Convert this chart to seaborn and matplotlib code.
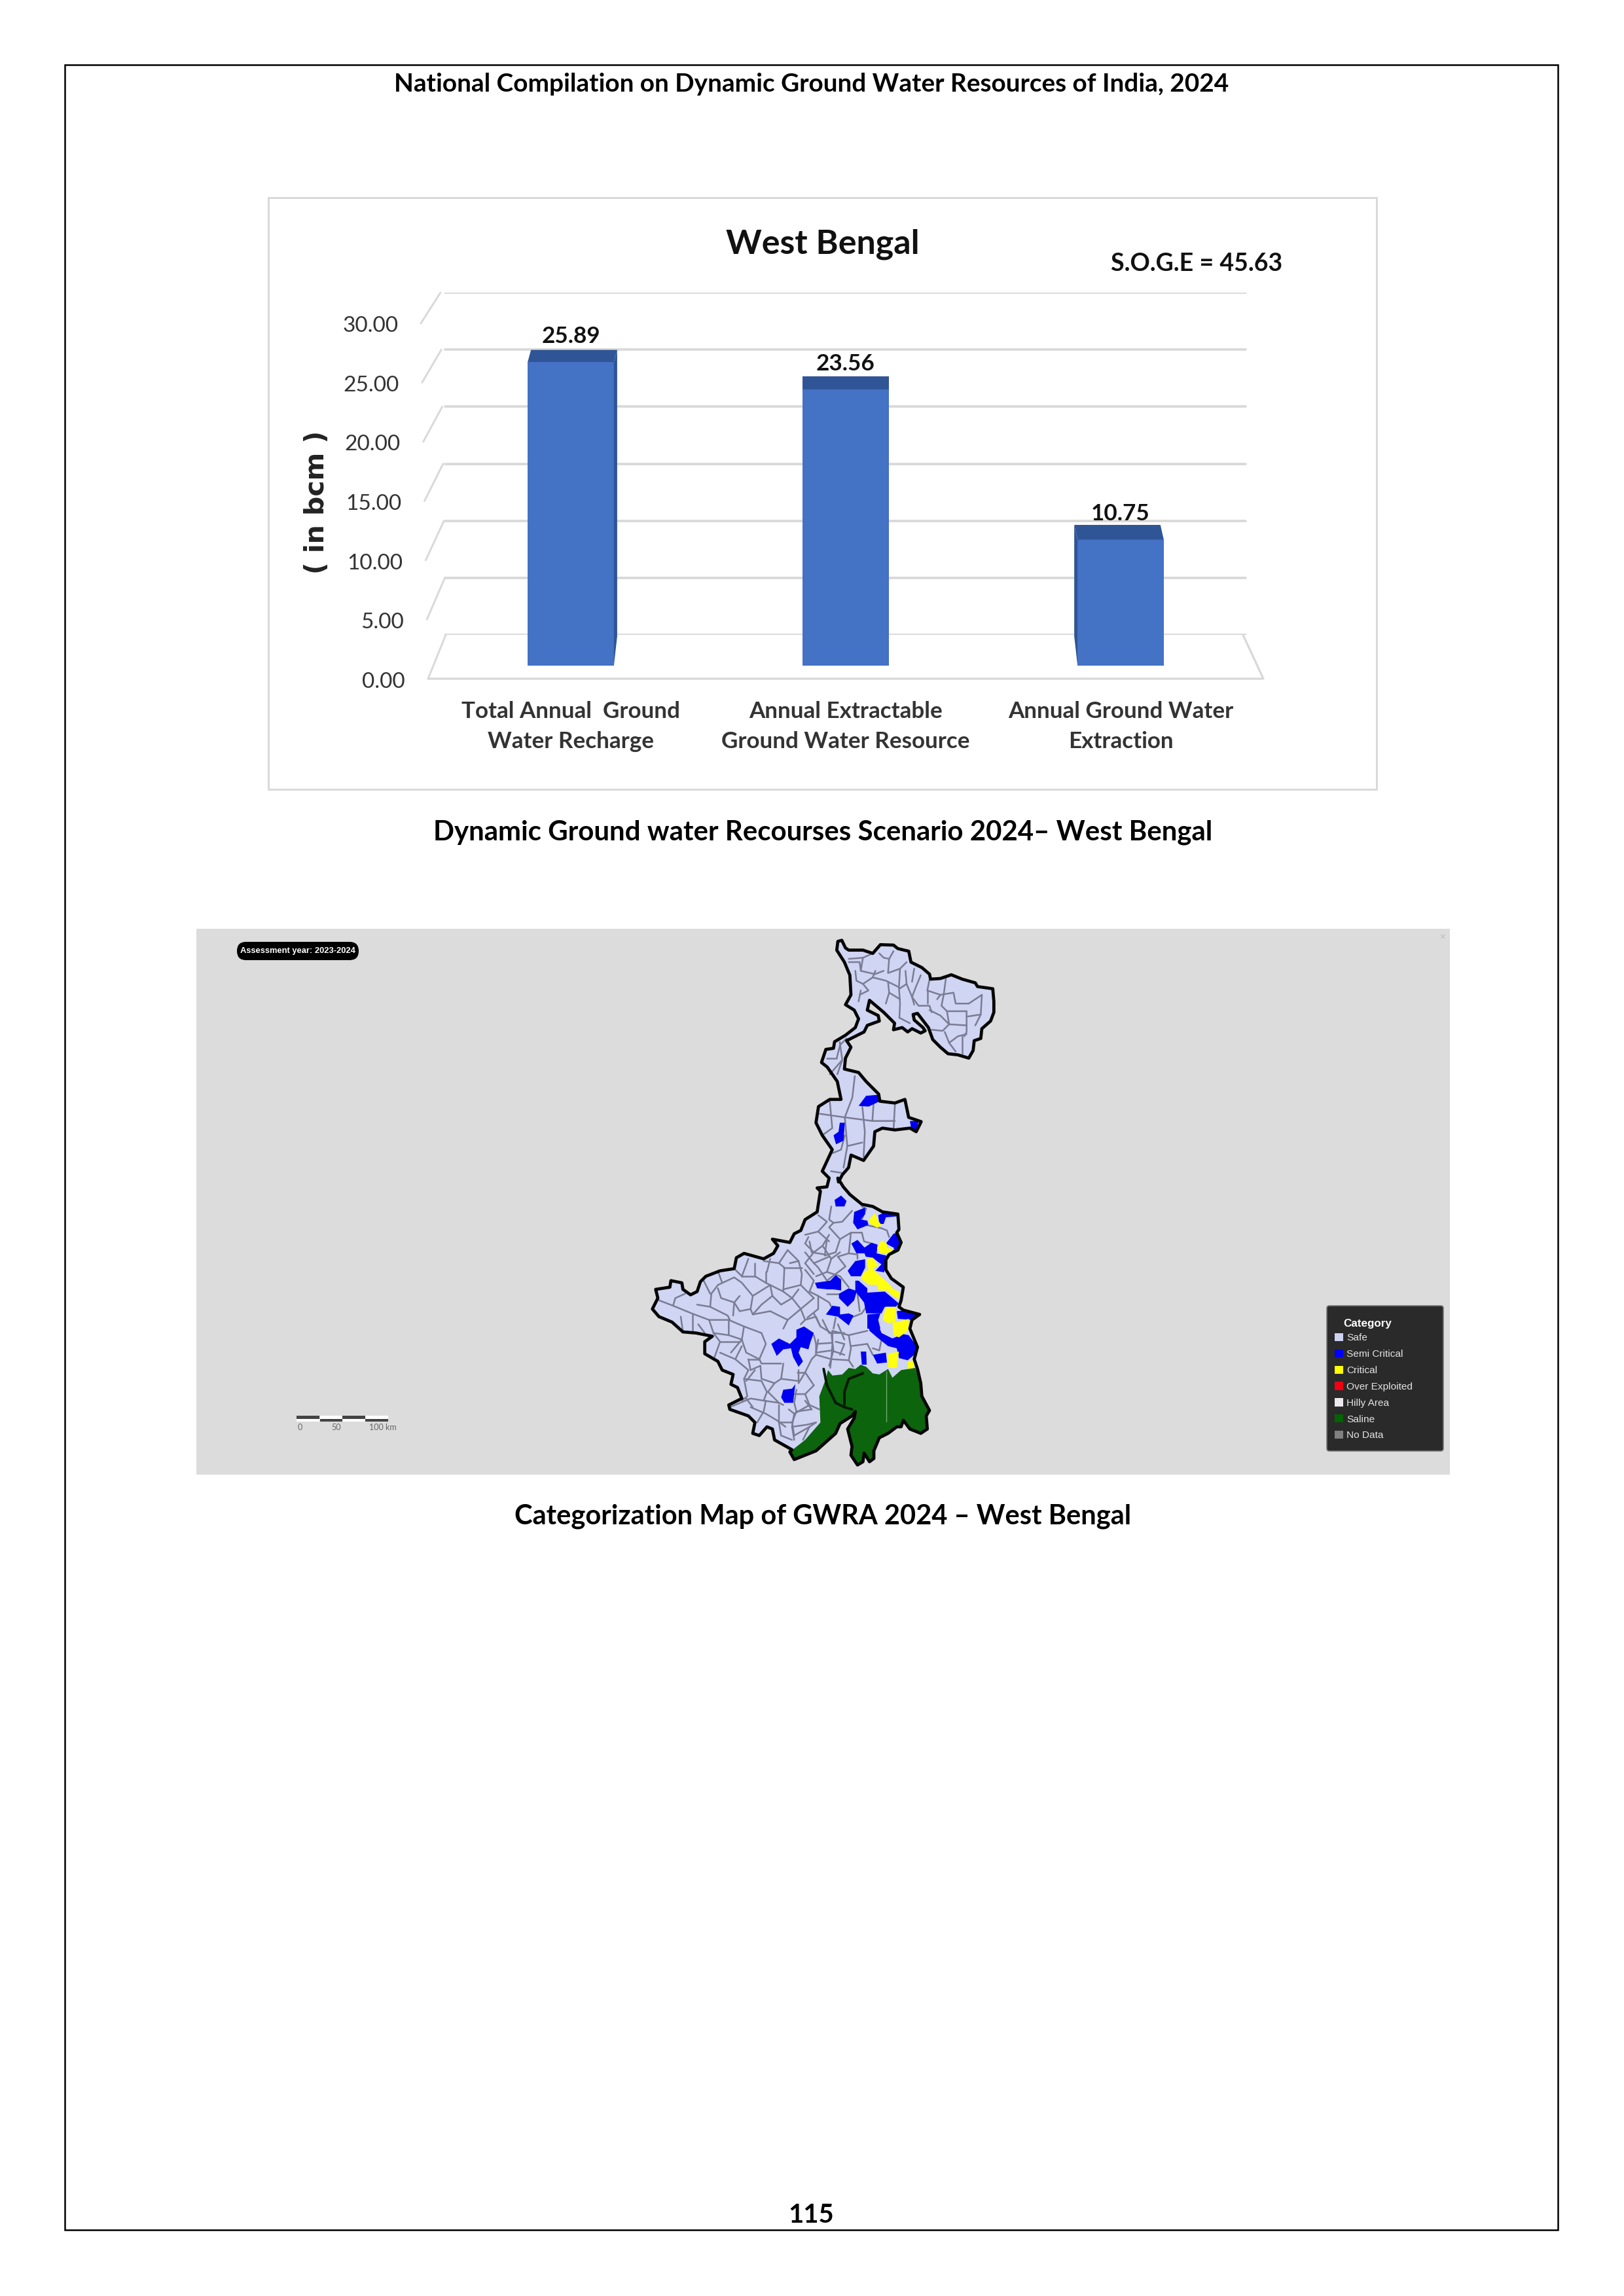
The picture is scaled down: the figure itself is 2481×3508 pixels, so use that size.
import matplotlib
matplotlib.use("Agg")
import matplotlib.pyplot as plt
import seaborn as sns
from matplotlib.patches import Polygon, Rectangle, FancyBboxPatch, Patch

# chart values
categories = ["Total Annual  Ground\nWater Recharge", "Annual Extractable\nGround Water Resource", "Annual Ground Water\nExtraction"]
values = [25.89, 23.56, 10.75]
y_ticks = [0, 5, 10, 15, 20, 25, 30]

# legend of the map
legend_names = ["Safe", "Semi Critical", "Critical", "Over Exploited", "Hilly Area", "Saline", "No Data"]
legend_colors = ["#CDD3F0", "#0000FF", "#FFFF00", "#F00010", "#ECE8EC", "#006400", "#808080"]

# map shapes, each list in the units of one crop of the map
# whole map crop
outline_mid = [(945,435),(975,460),(1025,495),(1030,515),(1090,520),(1130,510),(1145,560),(1195,572),(1175,600),(1150,590),(1090,595),(1040,590),(1010,600),(1005,640),(965,680),(915,665),(905,700),(880,720),(865,740)]
outline_mid_left = [(800,710),(840,650),(800,610),(775,575),(785,530),(830,510),(875,510),(860,460),(820,420)]
semi_critical_mid = [
    [(945,528),(975,500),(1025,497),(1030,515),(985,530)],
    [(845,610),(865,600),(870,575),(890,575),(885,625),(855,635)],
    [(1150,570),(1185,570),(1175,600),(1155,592)],
]
block_lines_mid = [
    [(870,350),(880,400),(860,440)],[(830,440),(880,400)],
    [(930,445),(920,505),(890,560),(900,640),(885,700)],[(790,550),(890,560),(1000,570),(1090,570)],[(1000,570),(1005,520)],[(830,515),(840,590),(800,610)],[(960,530),(970,600),(965,670)],[(1090,525),(1085,590)],[(900,640),(960,630)],[(840,660),(875,650),(890,610)],[(835,710),(880,715)],
]

# north crop
outline_north = [(85,95),(90,55),(108,50),(125,85),(140,95),(205,95),(250,110),(285,70),(345,72),(365,88),(415,100),(425,150),(445,160),(475,175),(510,205),(515,228),(560,225),(610,208),(660,228),(720,245),(730,262),(800,272),(805,330),(805,380),(790,420),(750,455),(745,500),(715,510),(710,555),(690,590),(640,575),(595,570),(560,540),(525,505),(505,450),(455,385),(435,390),(440,415),(480,450),(490,465),(470,475),(430,455),(410,470),(385,450),(345,460),(350,430),(300,380),(235,325),(225,370),(275,395),(280,420),(225,440),(210,470),(130,510),(150,540),(125,590),(120,640)]
outline_north_left = [(15,610),(35,550),(70,545),(75,515),(125,485),(170,450),(185,410),(165,370),(125,345),(150,300),(145,210),(120,150)]
block_lines_north = [
    [(140,135),(205,130),(250,110)],[(195,190),(205,130)],[(140,150),(190,150),(195,190),(260,205),(300,190)],[(170,190),(175,235),(205,250),(250,220),(262,190)],[(205,250),(230,280),(190,300)],
    [(250,220),(310,235),(370,265),(375,340),(372,405)],[(280,110),(300,130),(325,135),(345,100)],[(325,135),(320,200),(375,180),(405,150)],[(375,180),(370,265)],[(400,190),(405,250),(430,310)],[(405,250),(375,270)],
    [(320,240),(325,290),(310,340)],[(325,290),(375,320)],[(470,210),(445,270),(430,310),(460,350),(510,350),(520,380)],[(430,310),(440,345)],[(500,280),(500,340)],[(500,280),(560,300),(545,320)],
    [(560,300),(620,290),(630,340),(690,340),(735,310),(750,300)],[(585,225),(575,300),(565,350),(590,375),(680,375)],[(750,300),(745,390),(680,400)],[(680,375),(680,470),(670,490)],[(590,375),(600,435),(680,440)],[(600,435),(570,465),(520,460)],
    [(510,370),(560,395),(600,435)],[(580,470),(600,520),(640,490),(680,480)],[(660,490),(660,570)],[(600,520),(630,560)],[(720,440),(745,390)],[(372,405),(420,430)],[(130,500),(100,530),(85,590)],[(40,590),(85,590)],[(195,280),(185,330)],
    [(510,230),(500,280)],[(440,180),(430,240)],
]

# east crop
outline_east = [(150,0),(175,40),(205,75),(260,120),(310,130),(355,155),(425,165),(430,235),(420,250),(440,295),(425,330),(385,350),(370,375),(370,420),(395,460),(450,500),(440,560),(430,590),(450,605),(525,625),(490,650),(480,690)]
outline_east_left = [(0,190),(55,155),(70,60),(55,45),(100,40),(110,0)]
semi_critical_east = [
    [(135,100),(165,80),(190,105),(180,130),(140,130)],
    [(225,155),(275,135),(275,165),(255,190),(285,195),(290,215),(240,235),(220,205)],
    [(335,170),(370,155),(425,165),(425,175),(370,180),(360,210),(340,210)],
    [(212,300),(240,283),(272,318),(305,296),(332,305),(328,345),(372,355),(362,432),(322,425),(350,395),(335,385),(310,365),(278,360),(272,345),(235,345)],
    [(405,255),(425,250),(438,295),(425,330),(385,345),(408,320),(370,300)],
    [(230,380),(275,372),(275,410),(255,450),(210,450),(195,425)],
    [(45,480),(115,470),(140,445),(165,465),(165,515),(130,510),(105,510),(55,505)],
    [(155,530),(200,505),(230,515),(230,470),(245,470),(285,505),(285,525),(365,520),(430,575),(415,590),(365,590),(350,620),(280,620),(270,570),(235,525),(225,560),(195,590),(155,550)],
    [(95,625),(125,585),(160,590),(160,625),(200,620),(222,630),(200,675),(150,635)],
    [(285,625),(345,620),(335,650),(345,690),(285,690)],
    [(420,610),(460,605),(525,625),(490,650),(425,645)],
]
critical_east = [
    [(290,195),(320,160),(335,195),(350,215),(330,228),(300,210)],
    [(330,320),(350,285),(375,300),(375,320),(410,325),(385,345),(345,345)],
    [(282,370),(310,365),(335,400),(310,415),(345,450),(380,480),(405,510),(432,520),(430,555),(400,540),(375,515),(335,515),(330,490),(290,488),(255,460),(270,430),(290,420)],
    [(370,590),(415,590),(415,655),(380,665),(355,650)],
    [(420,660),(475,645),(475,690),(410,690)],
]
block_lines_east = [
    [(120,130),(110,190),(130,205),(170,200),(215,150)],[(60,170),(100,200),(60,245),(110,290)],[(0,260),(60,245)],[(130,205),(110,225),(160,280),(210,250)],[(160,280),(140,340),(90,355),(100,280)],
    [(20,290),(30,340),(90,350)],[(0,340),(40,390),(110,360)],[(40,390),(60,410),(100,470)],[(150,360),(200,345),(210,250),(260,250)],[(200,345),(240,350),(240,370)],[(150,360),(185,405),(100,470)],
    [(260,250),(270,290),(305,300)],[(350,230),(375,240),(385,270)],[(280,215),(350,230)],[(260,130),(280,140),(260,190)],[(0,420),(40,470),(20,520)],[(20,520),(60,540),(60,600),(10,640)],
    [(160,450),(200,500)],[(100,530),(160,530)],[(60,540),(110,570),(120,590)],[(210,640),(260,620),(280,590)],[(140,640),(130,690)],[(40,620),(70,680)],[(240,530),(250,610)],
]

# west crop
outline_west = [(660,1005),(580,960),(570,910),(545,900),(510,940),(480,930),(490,880),(460,850),(375,820),(370,800),(430,770),(410,720),(380,705),(390,660),(340,640),(320,600),(260,565),(260,510),(295,485),(220,470),(160,465),(110,420),(50,395),(20,360),(45,310),(35,270),(100,260),(105,230),(155,240),(160,270),(195,295),(225,280),(240,235),(265,210),(330,185),(395,175),(405,125),(440,105),(530,130),(575,105),(595,70),(570,40),(650,55),(670,15),(700,0)]
semi_critical_west = [
    [(565,520),(600,495),(650,520),(680,490),(680,455),(715,440),(760,470),(745,510),(735,545),(700,535),(690,560),(710,600),(690,625),(665,580),(655,540),(620,545),(590,575)],
    [(620,730),(660,725),(675,705),(665,790),(625,790),(610,765)],
]
block_lines_west = [
    [(50,320),(115,345),(200,380),(280,410),(370,410),(440,440),(520,470)],[(115,345),(125,310),(170,290)],[(150,395),(160,465)],[(205,385),(205,465)],
    [(225,340),(285,350),(290,290),(320,250),(395,215),(430,240),(480,300),(470,360),(480,385),(560,370)],[(285,350),(365,390),(375,410)],[(320,265),(335,310),(395,330),(420,300)],[(395,330),(390,390)],[(430,210),(400,180)],
    [(480,300),(560,250),(570,300),(610,340),(660,310),(700,360),(640,410),(600,390),(560,370)],[(490,150),(490,210),(430,210)],[(490,210),(540,240),(560,250)],[(540,190),(540,240)],[(600,150),(625,170),(620,280),(660,310)],[(620,280),(560,250)],
    [(640,90),(600,150),(530,140)],[(640,90),(690,140),(705,200),(700,250),(760,310)],[(620,170),(705,170)],[(700,250),(620,270)],[(760,200),(720,150),(760,100),(800,70),(830,20)],[(760,100),(720,60),(735,30)],[(800,70),(840,130),(880,100)],[(840,130),(820,190),(770,210)],
    [(760,310),(700,360),(720,410),(770,395),(790,440)],[(640,410),(620,450)],[(370,410),(370,480),(430,500),(450,560),(510,590)],[(440,440),(430,500)],[(520,470),(540,520),(510,590),(520,610),(610,610)],[(280,410),(300,470),(330,510),(305,580)],[(330,510),(420,510)],
    [(330,560),(400,590),(460,640)],[(400,590),(430,530)],[(460,640),(440,680),(455,760),(430,780)],[(460,590),(470,640),(515,620),(520,680),(580,700),(610,680),(620,610)],[(440,680),(520,690),(545,740),(530,780)],[(610,680),(690,690)],[(690,640),(690,700),(720,650)],
    [(375,810),(470,770),(530,780),(600,790),(620,800)],[(470,810),(540,840),(590,870),(630,900)],[(540,780),(530,830),(500,880)],[(600,800),(600,880),(660,880),(680,830),(750,820)],[(660,880),(670,940),(740,900),(770,880)],
    [(680,830),(670,790),(680,730)],[(600,880),(610,940),(660,960)],[(740,900),(710,960)],[(780,500),(770,560),(840,550),(900,570)],[(840,470),(850,550),(830,620)],[(870,430),(900,500)],[(800,410),(830,470),(900,470)],
    [(320,185),(340,240)],[(255,230),(285,290)],[(460,130),(430,210)],[(560,130),(545,190)],[(650,150),(690,140)],[(230,430),(260,470)],[(470,360),(420,370),(395,330)],[(300,470),(370,480)],[(430,500),(380,560)],[(510,590),(460,590)],[(490,640),(450,690)],[(580,700),(550,740),(600,790)],[(450,770),(480,810)],[(720,780),(750,820)],[(700,430),(720,410)],[(570,300),(520,340),(480,385)],[(660,310),(690,270)],[(790,440),(840,470)],[(820,190),(880,210)],
]

# south crop
outline_south = [(570,30),(605,115),(590,170),(605,215),(620,280),(625,340),(660,405),(645,430),(650,490),(620,510),(570,490),(540,450),(530,480),(510,480),(470,510),(430,530),(405,590),(405,625),(385,640),(360,600),(355,640),(330,655),(300,610),(305,570),(285,490),(315,440),(320,410),(305,430),(250,465),(230,510),(140,590),(40,630),(20,595)]
saline_area = [(185,260),(155,340),(160,460),(90,540),(20,595),(40,630),(140,590),(230,510),(250,465),(305,430),(320,410),(315,440),(285,490),(305,570),(300,610),(330,655),(355,640),(360,600),(385,640),(405,625),(405,590),(430,530),(470,510),(510,480),(530,480),(540,450),(570,490),(620,510),(650,490),(645,430),(660,405),(625,340),(620,280),(595,210),(530,220),(490,255),(470,215),(430,240),(400,235),(370,205),(345,195),(320,215),(290,210),(260,240),(215,245),(195,220)]
estuary_lines = [[(175,215),(190,290),(230,370),(270,390),(305,400)],[(270,380),(270,320),(290,260),(355,235)]]
semi_critical_south = [
    [(375,0),(420,0),(440,50),(490,75),(540,55),(565,60),(605,115),(590,150),(560,175),(520,165),(510,120),(470,110),(420,70),(385,40)],
    [(400,150),(460,140),(465,185),(420,190)],
    [(345,135),(370,135),(372,195),(350,195)],
]
critical_south = [
    [(470,145),(520,135),(510,210),(470,210)],
    [(560,180),(595,175),(585,215),(560,215)],
    [(490,0),(565,0),(560,40),(520,70),(495,60)],
]
block_lines_south = [
    [(130,60),(140,100),(140,150),(120,170),(90,230),(130,290)],[(215,40),(215,100),(210,170),(205,210)],[(140,100),(215,95)],[(140,150),(210,170),(290,175),(300,120),(290,60),(215,40)],[(290,60),(375,40)],[(300,110),(375,100)],[(230,90),(270,100),(250,150)],[(290,175),(310,205)],
    [(130,290),(90,330),(30,330)],[(90,330),(110,380),(40,420),(30,480)],[(110,380),(155,400)],[(40,420),(15,400)],[(30,480),(100,470),(140,460)],[(30,480),(40,540)],[(55,230),(90,230)],[(375,100),(400,150)],[(440,80),(430,130),(400,120)],
]


def from_mid(pts):
    return [(950 + x / 2.613, 1400 + y / 1.823) for x, y in pts]


def from_north(pts):
    return [(1250 + x / 3, 1420 + y / 3) for x, y in pts]


def from_east(pts):
    return [(1230 + x / 3, 1800 + y / 3) for x, y in pts]


def from_west(pts):
    return [(990 + x / 3, 1880 + y / 3) for x, y in pts]


def from_south(pts):
    return [(1200 + x / 3, 2020 + y / 3) for x, y in pts]


state_outline = (from_north(outline_north) + from_mid(outline_mid) + from_east(outline_east) + from_south(outline_south)
                 + from_west(outline_west) + from_east(outline_east_left) + from_mid(outline_mid_left) + from_north(outline_north_left))

sns.set_theme(style="white")
plt.rcParams["font.family"] = ["Lato", "DejaVu Sans"]

W, H = 2481, 3508
fig = plt.figure(figsize=(W / 300, H / 300), dpi=300)


def axes_at(x0, y0, x1, y1, z):
    # axes from page pixels (y counted from the top)
    return fig.add_axes([x0 / W, 1 - y1 / H, (x1 - x0) / W, (y1 - y0) / H], zorder=z)


# page layer
page = axes_at(0, 0, W, H, 0)
page.set_xlim(0, W)
page.set_ylim(H, 0)
page.axis("off")
page.add_patch(Rectangle((99, 99), 2281, 3308, fill=False, ec="black", lw=0.6))
page.text(1240, 129, "National Compilation on Dynamic Ground Water Resources of India, 2024", ha="center", va="center", fontsize=9.3, fontweight="bold", color="black")
page.add_patch(Rectangle((410, 302), 1693, 904, fill=False, ec="#D9D9D9", lw=0.7))
page.text(1257, 373, "West Bengal", ha="center", va="center", fontsize=12.5, fontweight="bold", color="#111111")
page.text(1828, 403, "S.O.G.E = 45.63", ha="center", va="center", fontsize=9.0, fontweight="bold", color="#111111")
page.text(1257, 1272, "Dynamic Ground water Recourses Scenario 2024– West Bengal", ha="center", va="center", fontsize=10.1, fontweight="bold", color="black")
page.text(1257, 2317, "Categorization Map of GWRA 2024 – West Bengal", ha="center", va="center", fontsize=10.0, fontweight="bold", color="black")
page.text(1239, 3384, "115", ha="center", va="center", fontsize=9.6, fontweight="bold", color="black")
page.text(484, 767, "( in bcm )", rotation=90, ha="center", va="center", fontsize=9.8, fontweight="bold", family="DejaVu Sans", color="#222222")

# back wall with its gridlines
wall = axes_at(662, 447, 1922, 970, 1)
wall.set_xlim(-0.5, 2.5)
wall.set_ylim(0, 30)
wall.axis("off")
for t in y_ticks:
    wall.axhline(t, xmin=0.014, xmax=0.985, color="#D9D9D9", lw=0.9)

# slanted side wall lines, from the back wall to the tick labels
for t in y_ticks:
    page.plot([681 - t * 0.27, 654 - t * 0.37], [970 - t * 17.43, 1037 - t * 18.1], color="#D9D9D9", lw=0.7)
page.plot([654, 1930, 1899], [1037, 1037, 970], color="#D9D9D9", lw=0.8)

# y tick labels
front = axes_at(540, 498, 619, 1042, 1)
front.set_xlim(0, 1)
front.set_ylim(0, 30)
front.axis("off")
for t in y_ticks:
    front.text(1 - t * 0.0045, t, f"{t:.2f}", ha="right", va="center", fontsize=8, color="#333333", clip_on=False)

# bars
ax = axes_at(662, 479.4, 1922, 1017, 2)
ax.patch.set_alpha(0)
sns.barplot(x=categories, y=values, color="#4472C4", saturation=1, width=0.3135, linewidth=0, ax=ax)
ax.set_xlim(-0.5, 2.5)
ax.set_ylim(0, 30)
ax.set_yticks([])
ax.set_ylabel("")
sns.despine(ax=ax, left=True, bottom=True)
ax.tick_params(axis="x", length=0, pad=13)
for lbl in ax.get_xticklabels():
    lbl.set_fontsize(8.4)
    lbl.set_fontweight("bold")
    lbl.set_color("#333333")
    lbl.set_linespacing(1.55)

# top and side faces of the 3D look
cap_depth = [1.03, 1.12, 1.25]
cap_shift = [0.012, 0.0, -0.012]
for bar, d, s in zip(ax.patches, cap_depth, cap_shift):
    x0, w, h = bar.get_x(), bar.get_width(), bar.get_height()
    ax.add_patch(Polygon([(x0, h), (x0 + w, h), (x0 + w + s, h + d), (x0 + s, h + d)], color="#2F5597", lw=0))
    if s > 0:
        ax.add_patch(Polygon([(x0 + w, h), (x0 + w + s, h + d), (x0 + w + s, 2.5), (x0 + w, 0)], color="#2F5597", lw=0))
    if s < 0:
        ax.add_patch(Polygon([(x0, h), (x0 + s, h + d), (x0 + s, 2.5), (x0, 0)], color="#2F5597", lw=0))
ax.bar_label(ax.containers[0], fmt="%.2f", padding=5.5, fontsize=8.4, fontweight="bold", color="#111111")

# map panel
page.add_patch(Rectangle((300, 1419), 1915, 834, fc="#DCDCDC", ec="none"))
page.add_patch(FancyBboxPatch((362, 1439), 186, 28, boxstyle="round,pad=0,rounding_size=14", fc="black", ec="none"))
page.text(455, 1453, "Assessment year: 2023-2024", ha="center", va="center", fontsize=3.1, fontweight="bold", color="white", family="Liberation Sans")
page.text(2203, 1432, "×", ha="center", va="center", fontsize=3.5, color="#BBBBBB")

# scale bar
for i, x0 in enumerate([453, 489, 523, 558]):
    page.add_patch(Rectangle((x0, 2163), 35, 4.5, fc="#444444" if i % 2 == 0 else "white", ec="none"))
    page.add_patch(Rectangle((x0, 2167.5), 35, 4.5, fc="white" if i % 2 == 0 else "#444444", ec="none"))
page.text(458, 2181, "0", ha="center", va="center", fontsize=3, color="#666666")
page.text(514, 2181, "50", ha="center", va="center", fontsize=3, color="#666666")
page.text(585, 2181, "100 km", ha="center", va="center", fontsize=3, color="#666666")

# legend box
page.add_patch(FancyBboxPatch((2027, 1995), 178, 222, boxstyle="round,pad=0,rounding_size=4", fc="#2A2A2A", ec="#777777", lw=0.4))
page.text(2052, 2023, "Category", ha="left", va="center", fontsize=4.1, fontweight="bold", color="white", family="Liberation Sans")
handles = [Patch(fc=c, ec="none", label=n) for n, c in zip(legend_names, legend_colors)]
leg = page.legend(handles=handles, loc="upper left", bbox_to_anchor=(2039, 2037), bbox_transform=page.transData,
                  frameon=False, prop={"family": "Liberation Sans", "size": 3.7}, labelcolor="#E4E4E4", labelspacing=0.67,
                  handlelength=0.85, handleheight=0.85, handletextpad=0.32, borderaxespad=0, borderpad=0)
leg.set_zorder(5)

# map, drawn in page pixels
m = axes_at(950, 1400, 1550, 2260, 3)
m.patch.set_alpha(0)
m.set_xlim(950, 1550)
m.set_ylim(2260, 1400)
m.axis("off")
m.add_patch(Polygon(state_outline, fc="#CFD5F2", ec="none"))
all_lines = ([from_mid(l) for l in block_lines_mid] + [from_north(l) for l in block_lines_north]
             + [from_east(l) for l in block_lines_east] + [from_west(l) for l in block_lines_west]
             + [from_south(l) for l in block_lines_south])
for line in all_lines:
    xs, ys = zip(*line)
    m.plot(xs, ys, color="#7A7C94", lw=0.6, solid_joinstyle="round", zorder=2)
blue = ([from_mid(a) for a in semi_critical_mid] + [from_east(a) for a in semi_critical_east]
        + [from_west(a) for a in semi_critical_west] + [from_south(a) for a in semi_critical_south])
for a in blue:
    m.add_patch(Polygon(a, fc="#0000F0", ec="none", zorder=3))
for a in [from_east(a) for a in critical_east] + [from_south(a) for a in critical_south]:
    m.add_patch(Polygon(a, fc="#FFFF10", ec="none", zorder=3))
m.add_patch(Polygon(from_south(saline_area), fc="#0C640C", ec="none", zorder=3))
xs, ys = zip(*from_south([(463, 225), (463, 455)]))
m.plot(xs, ys, color="#6FA06F", lw=0.35, zorder=3)
for line in estuary_lines:
    xs, ys = zip(*from_south(line))
    m.plot(xs, ys, color="#041A04", lw=0.95, zorder=3)
m.add_patch(Polygon(state_outline, fill=False, ec="#060606", lw=1.15, zorder=4, joinstyle="round"))

fig.savefig("out.png", dpi=300, facecolor="white")
